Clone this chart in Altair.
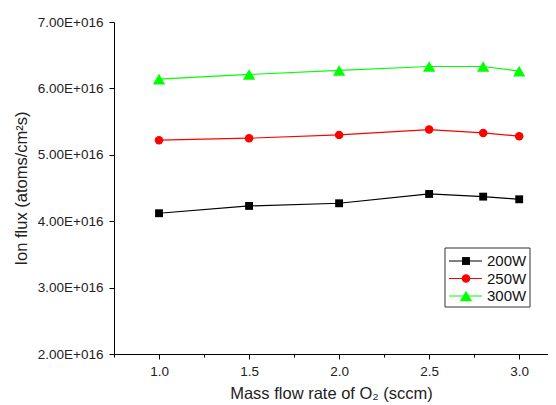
import altair as alt
import pandas as pd

flow = [1.0, 1.5, 2.0, 2.5, 2.8, 3.0]
flux_200 = [4.12e16, 4.23e16, 4.27e16, 4.41e16, 4.37e16, 4.33e16]
flux_250 = [5.22e16, 5.25e16, 5.30e16, 5.38e16, 5.33e16, 5.28e16]
flux_300 = [6.14e16, 6.21e16, 6.27e16, 6.33e16, 6.33e16, 6.26e16]
series = ["200W", "250W", "300W"]
colors = ["#000000", "#ff0000", "#00ff00"]
shapes = ["square", "circle", "triangle-up"]
marker_sizes = [62, 72, 150]

x_ticks = [0.75, 1.0, 1.25, 1.5, 1.75, 2.0, 2.25, 2.5, 2.75, 3.0]
y_ticks = [2e16, 2.5e16, 3e16, 3.5e16, 4e16, 4.5e16, 5e16, 5.5e16, 6e16, 6.5e16, 7e16]

rows = []
for name, vals in zip(series, [flux_200, flux_250, flux_300]):
    for f, v in zip(flow, vals):
        rows.append({"flow": f, "flux": v, "power": name})
df = pd.DataFrame(rows)

FONT = "Liberation Sans"
color_scale = alt.Scale(domain=series, range=colors)

x_enc = alt.X(
    "flow:Q",
    scale=alt.Scale(domain=[0.75, 3.16], nice=False, zero=False),
    axis=alt.Axis(
        title="Mass flow rate of O₂ (sccm)",
        values=x_ticks,
        labelExpr="(datum.value * 2) % 1 === 0 ? format(datum.value, '.1f') : ''",
        tickSize={"condition": {"test": "(datum.value * 2) % 1 !== 0", "value": 3}, "value": 5},
        grid=False,
        domainColor="black",
        tickColor="black",
        labelColor="#222",
        labelFont=FONT,
        labelFontSize=13.5,
        labelPadding=5,
        titleFont=FONT,
        titleFontSize=16.5,
        titleFontWeight="normal",
        titleColor="#222",
        titlePadding=8,
    ),
)
y_enc = alt.Y(
    "flux:Q",
    scale=alt.Scale(domain=[2e16, 7e16], nice=False, zero=False),
    axis=alt.Axis(
        title="Ion flux (atoms/cm²s)",
        values=y_ticks,
        labelExpr="(datum.value / 1e16) % 1 === 0 ? format(datum.value / 1e16, '.2f') + 'E+016' : ''",
        tickSize={"condition": {"test": "(datum.value / 1e16) % 1 !== 0", "value": 3}, "value": 5},
        grid=False,
        domainColor="black",
        tickColor="black",
        labelColor="#222",
        labelFont=FONT,
        labelFontSize=13.5,
        labelPadding=6,
        titleFont=FONT,
        titleFontSize=16.5,
        titleFontWeight="normal",
        titleColor="#222",
        titlePadding=8,
    ),
)

base = alt.Chart(df)
lines = base.mark_line(strokeWidth=1.2).encode(
    x=x_enc, y=y_enc,
    color=alt.Color("power:N", scale=color_scale, legend=None),
    detail="power:N",
)

leg = pd.DataFrame({"power": series, "i": [0, 1, 2]})
leg["ly"] = 239 + 17.5 * leg["i"]

point_layers = []
leg_point_layers = []
for name, col, shp, sz in zip(series, colors, shapes, marker_sizes):
    point_layers.append(
        base.mark_point(filled=True, opacity=1, shape=shp, size=sz, color=col)
        .encode(x="flow:Q", y="flux:Q")
        .transform_filter(alt.datum.power == name)
    )
    leg_point_layers.append(
        alt.Chart(leg).mark_point(filled=True, opacity=1, shape=shp, size=sz, color=col)
        .encode(x=alt.value(352), y=alt.Y("ly:Q", scale=None))
        .transform_filter(alt.datum.power == name)
    )

# manual legend (pixel positions within plot area)
leg_box = alt.Chart(leg).mark_rect(fill="white", stroke="#333", strokeWidth=1).encode(
    x=alt.value(331), x2=alt.value(416), y=alt.value(226), y2=alt.value(285)
).transform_filter("datum.i === 0")
leg_lines = alt.Chart(leg).mark_rule(strokeWidth=1.2).encode(
    x=alt.value(335), x2=alt.value(368),
    y=alt.Y("ly:Q", scale=None),
    color=alt.Color("power:N", scale=color_scale, legend=None),
)
leg_text = alt.Chart(leg).mark_text(
    align="left", baseline="middle", font=FONT, fontSize=15, color="#111"
).encode(
    x=alt.value(373),
    y=alt.Y("ly:Q", scale=None),
    text="power:N",
)

chart = alt.layer(lines, *point_layers, leg_box, leg_lines, *leg_point_layers, leg_text).properties(
    width=434,
    height=332,
    autosize=alt.AutoSizeParams(type="none"),
    padding={"left": 106, "top": 14, "right": 0, "bottom": 51},
    background="white",
).configure_view(stroke=None)

chart.save("out.html", embed_options={"renderer": "svg", "actions": False})
